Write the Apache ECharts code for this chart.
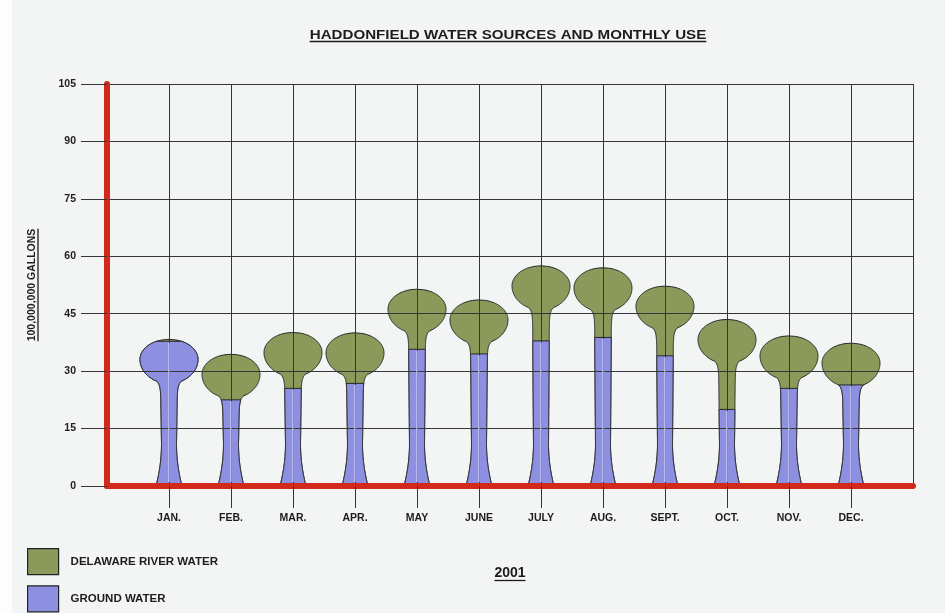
<!DOCTYPE html>
<html>
<head>
<meta charset="utf-8">
<title>Haddonfield Water Sources and Monthly Use</title>
<script src="https://cdn.jsdelivr.net/npm/echarts@6.0.0/dist/echarts.min.js"></script>
<style>
  html, body { margin: 0; padding: 0; background: #f3f5f4; }
  #chart { width: 945px; height: 613px; }
</style>
</head>
<body>
<div id="chart"></div>
<script>
// Monthly water use, 2001 (units of 100,000,000 gallons)
const months = ['JAN.', 'FEB.', 'MAR.', 'APR.', 'MAY', 'JUNE', 'JULY', 'AUG.', 'SEPT.', 'OCT.', 'NOV.', 'DEC.'];
const groundWater = [37.8, 22.5, 25.5, 26.8, 35.7, 34.5, 37.9, 38.8, 34.0, 20.0, 25.5, 26.4];
const riverWater  = [0.5, 11.9, 14.6, 13.2, 15.7, 14.1, 19.6, 18.2, 18.2, 23.5, 13.7, 10.9];
const yMin = 0, yMax = 105, yStep = 15;

const titleText = 'HADDONFIELD WATER SOURCES AND MONTHLY USE';
const yAxisTitle = '100,000,000 GALLONS';
const yearText = '2001';
const riverName = 'DELAWARE RIVER WATER';
const groundName = 'GROUND WATER';

const FONT = '"Liberation Sans", Arial, Helvetica, sans-serif';
const INK = '#1c1c1c';
const GRID = '#363636';
const RED = '#d3291b';
const GREEN = '#8b9a5a';
const BLUE = '#8d8fe0';

// Category slots: an empty slot at each end so the months sit between the frame edges
const slots = [''].concat(months, ['']);
const totals = months.map((m, i) => +(groundWater[i] + riverWater[i]).toFixed(2));

// Water-tower profile: half width (px) at distance d below the top of a tower of height h
function halfWidth(d, h) {
  const R = 29, c = 20, b = 24;           // bulb: half width, dome height, lower half height
  const stemTop = 8.5, stemBot = 7.5, foot = 42, footHw = 13;
  let bulb = 0;
  if (d <= c) {
    const u = (c - d) / c;
    bulb = R * Math.sqrt(Math.max(0, 1 - u * u));
  } else if (d <= c + b) {
    const u = (d - c) / b;
    bulb = R * Math.sqrt(Math.max(0, 1 - u * u));
  }
  if (d <= 38) return bulb;
  const fs = h - foot;
  let stem;
  if (d <= fs) {
    stem = stemTop + (stemBot - stemTop) * (d - 38) / Math.max(1, fs - 38);
  } else {
    const s = (d - fs) / foot;
    stem = stemBot + (footHw - stemBot) * s * s;
  }
  // concave neck joining the bulb to the stem
  const neck = stem + 6 * Math.exp(-(d - 40) / 4);
  return Math.max(bulb, neck);
}

// Outline of the part of a tower lying below distance dFrom from its top
function towerPoints(cx, yTop, yBase, dFrom) {
  const h = yBase - yTop;
  const pts = [];
  const step = 0.5;
  for (let d = h; d > dFrom; d -= step) pts.push([cx - halfWidth(d, h), yTop + d]);
  pts.push([cx - halfWidth(dFrom, h), yTop + dFrom]);
  pts.push([cx + halfWidth(dFrom, h), yTop + dFrom]);
  for (let d = dFrom + step; d <= h; d += step) pts.push([cx + halfWidth(d, h), yTop + d]);
  pts.push([cx + halfWidth(h, h), yBase]);
  pts.unshift([cx - halfWidth(h, h), yBase]);
  return pts;
}

const chart = echarts.init(document.getElementById('chart'), null, { renderer: 'canvas' });

const measureCtx = document.createElement('canvas').getContext('2d');
function textWidth(str, size) {
  measureCtx.font = 'bold ' + size + 'px ' + FONT;
  return measureCtx.measureText(str).width;
}

// Headings (underlined)
const titleSize = 13.5, titleScale = 1.12, titleX = 508, titleY = 35;
const titleW = textWidth(titleText, titleSize) * titleScale;
const yNameSize = 10.5, yNameX = 32.5, yNameY = 285;
const yNameW = textWidth(yAxisTitle, yNameSize);
const yearSize = 14, yearX = 510, yearY = 573;
const yearW = textWidth(yearText, yearSize);

function label(text, x, y, size, extra) {
  return Object.assign({
    type: 'text', x: x, y: y, z: 10,
    style: {
      text: text, font: 'bold ' + size + 'px ' + FONT, fill: INK,
      align: 'center', verticalAlign: 'middle',
      textAlign: 'center', textVerticalAlign: 'middle'
    }
  }, extra || {});
}
function rule(x1, y1, x2, y2) {
  return { type: 'line', z: 10, shape: { x1: x1, y1: y1, x2: x2, y2: y2 }, style: { stroke: INK, lineWidth: 1.3 } };
}

const option = {
  backgroundColor: '#f3f5f4',
  animation: false,
  grid: { left: 107, right: 32, top: 84, bottom: 127, containLabel: false },
  legend: {
    data: [{ name: riverName }, { name: groundName }],
    orient: 'vertical',
    left: 27, top: 548,
    padding: 0,
    itemWidth: 31, itemHeight: 26, itemGap: 10,
    icon: 'rect',
    selectedMode: false,
    itemStyle: { borderColor: '#222', borderWidth: 1.2 },
    textStyle: { fontFamily: FONT, fontWeight: 'bold', fontSize: 11.5, color: INK, padding: [0, 0, 0, 7] }
  },
  xAxis: {
    type: 'category',
    data: slots,
    boundaryGap: false,
    z: 3,
    axisLine: { show: true, lineStyle: { color: RED, width: 6 } },
    axisTick: {
      show: true, length: 22,
      interval: (i) => i >= 1 && i <= months.length,
      lineStyle: { color: GRID, width: 1 }
    },
    axisLabel: { interval: 0, margin: 27, fontFamily: FONT, fontWeight: 'bold', fontSize: 10.5, color: INK },
    splitLine: { show: true, interval: 0, lineStyle: { color: GRID, width: 1 } }
  },
  yAxis: {
    type: 'value',
    min: yMin, max: yMax, interval: yStep,
    z: 3,
    axisLine: { show: true, lineStyle: { color: RED, width: 6 } },
    axisTick: { show: true, length: 26, lineStyle: { color: GRID, width: 1 } },
    axisLabel: { margin: 31, fontFamily: FONT, fontWeight: 'bold', fontSize: 10.5, color: INK },
    splitLine: { show: true, lineStyle: { color: GRID, width: 1 } }
  },
  series: [
    {
      // full tower silhouette: total use, river water on top
      name: riverName,
      type: 'custom',
      z: 1,
      itemStyle: { color: GREEN, borderColor: '#222', borderWidth: 1 },
      data: months.map((m, i) => [i + 1, totals[i]]),
      encode: { x: 0, y: 1 },
      renderItem: function (params, api) {
        const base = api.coord([api.value(0), 0]);
        const top = api.coord([api.value(0), api.value(1)]);
        return {
          type: 'polygon',
          shape: { points: towerPoints(base[0], top[1], base[1], 0) },
          style: { fill: GREEN, stroke: '#262626', lineWidth: 1 }
        };
      }
    },
    {
      // lower part of each tower: ground water
      name: groundName,
      type: 'custom',
      z: 1.5,
      itemStyle: { color: BLUE, borderColor: '#222', borderWidth: 1 },
      data: months.map((m, i) => [i + 1, groundWater[i], totals[i]]),
      encode: { x: 0, y: 1 },
      renderItem: function (params, api) {
        const base = api.coord([api.value(0), 0]);
        const lvl = api.coord([api.value(0), api.value(1)]);
        const top = api.coord([api.value(0), api.value(2)]);
        return {
          type: 'polygon',
          shape: { points: towerPoints(base[0], top[1], base[1], lvl[1] - top[1]) },
          style: { fill: BLUE, stroke: '#262626', lineWidth: 1 }
        };
      }
    },
    {
      // light centre stripe through the ground-water column
      name: 'stripe',
      type: 'custom',
      z: 5,
      silent: true,
      data: months.map((m, i) => [i + 1, groundWater[i]]),
      encode: { x: 0, y: 1 },
      renderItem: function (params, api) {
        const base = api.coord([api.value(0), 0]);
        const lvl = api.coord([api.value(0), api.value(1)]);
        return {
          type: 'line',
          shape: { x1: base[0], y1: base[1] - 4, x2: base[0], y2: lvl[1] + 1.5 },
          style: { stroke: 'rgba(236,238,255,0.8)', lineWidth: 1.2 }
        };
      }
    }
  ],
  graphic: [
    { type: 'rect', z: -5, shape: { x: 0, y: 0, width: 12, height: 613 }, style: { fill: '#fdfdfd' } },
    label(titleText, titleX, titleY, titleSize, { scaleX: titleScale }),
    rule(titleX - titleW / 2, titleY + 6.5, titleX + titleW / 2, titleY + 6.5),
    label(yAxisTitle, yNameX, yNameY, yNameSize, { rotation: Math.PI / 2 }),
    rule(yNameX + 5.5, yNameY - yNameW / 2, yNameX + 5.5, yNameY + yNameW / 2),
    label(yearText, yearX, yearY, yearSize),
    rule(yearX - yearW / 2, yearY + 7.5, yearX + yearW / 2, yearY + 7.5)
  ]
};

chart.setOption(option);
</script>
</body>
</html>
